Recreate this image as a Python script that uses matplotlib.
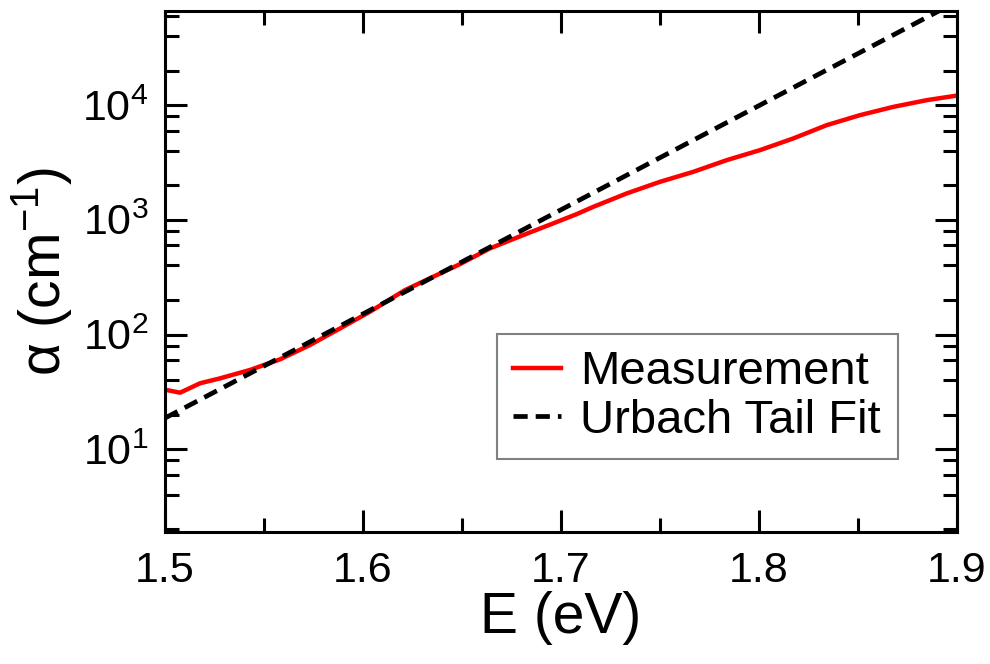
import numpy as np
import matplotlib
matplotlib.use('Agg')
import matplotlib.pyplot as plt
from matplotlib.ticker import MultipleLocator, LogLocator, LogFormatterMathtext, NullFormatter

plt.rcParams['font.family'] = ['Liberation Sans', 'DejaVu Sans']
plt.rcParams['mathtext.fontset'] = 'custom'
plt.rcParams['mathtext.rm'] = 'Liberation Sans'
plt.rcParams['mathtext.it'] = 'Liberation Sans'
plt.rcParams['mathtext.default'] = 'regular'

E_meas = [1.500, 1.5025, 1.5076, 1.5177, 1.5278, 1.5429, 1.5581, 1.5732, 1.5884,
          1.6035, 1.6212, 1.6355, 1.649, 1.6641, 1.681, 1.6961, 1.708, 1.7163,
          1.7332, 1.75, 1.7668, 1.7837, 1.8005, 1.8173, 1.8342, 1.851, 1.8678,
          1.8847, 1.900]
alpha_meas = [33, 32.4, 31.1, 37.6, 41.5, 49.1, 60.8, 81, 113,
              158, 244, 319, 411, 563, 737, 931, 1122, 1297,
              1698, 2143, 2618, 3311, 4047, 5117, 6683, 8166, 9641,
              11030, 12100]

# Urbach tail fit (straight line on log axis, endpoints)
E_fit = [1.5, 1.9]
alpha_fit = [18.7, 80000]

fig = plt.figure(figsize=(9.9, 6.64), dpi=100)
ax = fig.add_axes([0.1667, 0.1988, 0.80, 0.7846])

ax.plot(E_meas, alpha_meas, color='#ff0000', linewidth=3.2, label='Measurement', zorder=2)
ax.plot(E_fit, alpha_fit, color='black', linewidth=3.4, linestyle=(0, (3, 1.7)),
        label='Urbach Tail Fit', zorder=3)

ax.set_yscale('log')
ax.set_xlim(1.5, 1.9)
ax.set_ylim(1.9, 6.6e4)

ax.xaxis.set_major_locator(MultipleLocator(0.1))
ax.xaxis.set_minor_locator(MultipleLocator(0.05))
ax.yaxis.set_major_locator(LogLocator(base=10, numticks=20))
ax.yaxis.set_minor_locator(LogLocator(base=10, subs=(2, 4, 6, 8), numticks=20))
ax.yaxis.set_major_formatter(LogFormatterMathtext())
ax.yaxis.set_minor_formatter(NullFormatter())

ax.tick_params(which='both', direction='in', top=True, right=True, width=2.2, labelsize=31)
ax.tick_params(which='major', length=16)
ax.tick_params(which='minor', length=10)
ax.tick_params(axis='x', pad=14)
ax.tick_params(axis='y', pad=12)
for s in ax.spines.values():
    s.set_linewidth(2.2)

ax.set_xlabel('E (eV)', fontsize=41, labelpad=0)
ax.set_ylabel(r'α (cm$^{-1}$)', fontsize=41, labelpad=6)

leg = ax.legend(loc='upper right', bbox_to_anchor=(0.925, 0.381), borderaxespad=0,
                fontsize=34, handlelength=1.0, handletextpad=0.42, labelspacing=0.1,
                borderpad=0.35, fancybox=False, framealpha=1, edgecolor='#808080')
leg.get_frame().set_linewidth(1.5)

fig.savefig('out.png', dpi=100)
